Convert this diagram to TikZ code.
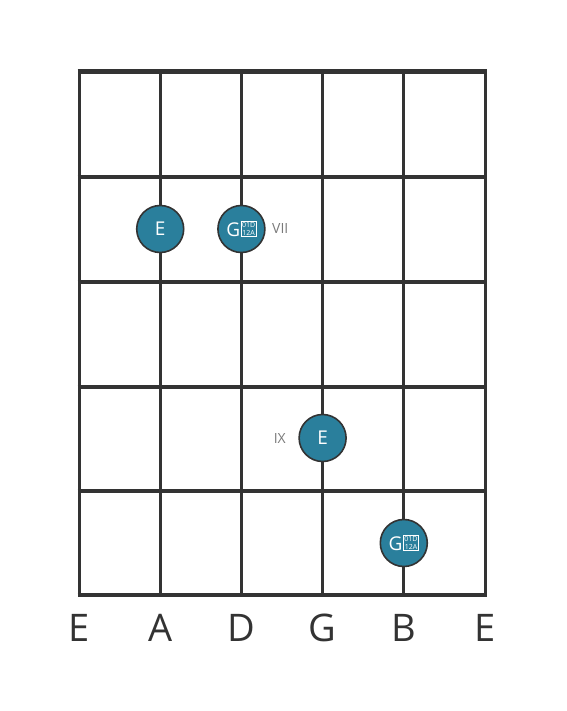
\documentclass[tikz,border=0pt]{standalone}
\usepackage{fontspec}
\setmainfont{Open Sans}
\usetikzlibrary{positioning}
\definecolor{gridgray}{HTML}{333333}
\definecolor{noteteal}{HTML}{2A7F9C}
\definecolor{labelgray}{HTML}{7A7A7A}
\tikzset{note/.style={circle,draw=gridgray,line width=1.6pt,fill=noteteal,text=white,
  minimum size=47pt,inner sep=0pt,font=\fontsize{19}{19}\selectfont}}
\tikzset{fretlabel/.style={text=labelgray,font=\fontsize{14}{14}\selectfont}}
\tikzset{stringname/.style={text=gridgray,font=\fontsize{38}{38}\selectfont}}
\newcommand{\dblsharpbox}{\raisebox{0.5pt}{\fboxsep=0.8pt\fboxrule=0.6pt\fcolorbox{white}{noteteal}{%
  \fontsize{7}{6.2}\selectfont\shortstack{01D\\12A}}}}

\begin{document}
\begin{tikzpicture}[x=1pt,y=-1pt]
\useasboundingbox (0,0) rectangle (566,711);
% strings
\foreach \sx in {79,160.2,241.4,322.6,403.8,485}
  \draw[gridgray,line width=3pt] (\sx,72) -- (\sx,595);
% frets
\draw[gridgray,line width=5pt] (77.5,72) -- (486.5,72);
\foreach \fy in {177.5,282,386.5,491}
  \draw[gridgray,line width=4pt] (77.5,\fy) -- (486.5,\fy);
\draw[gridgray,line width=4pt] (77.5,595) -- (486.5,595);
%
\node (e1) [note] at (160.2,229) {E};
\node (g1) [note] at (241.4,229) {G\hspace{0.5pt}\dblsharpbox};
\node (e2) [note] at (322.6,438) {E};
\node (g2) [note] at (403.8,543) {G\hspace{0.5pt}\dblsharpbox};
\node (vii) [fretlabel,right=3pt of g1] {VII};
\node (ix) [fretlabel,left=9pt of e2] {IX};
%
\node (s1) [stringname] at (79,628) {E};
\node (s2) [stringname] at (160.2,628) {A};
\node (s3) [stringname] at (241.4,628) {D};
\node (s4) [stringname] at (322.6,628) {G};
\node (s5) [stringname] at (403.8,628) {B};
\node (s6) [stringname] at (485,628) {E};
\end{tikzpicture}
\end{document}
